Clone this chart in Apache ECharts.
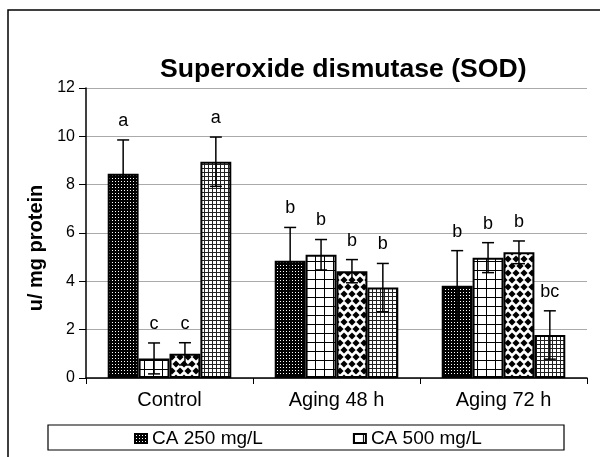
<!DOCTYPE html>
<html>
<head>
<meta charset="utf-8">
<script src="https://cdn.jsdelivr.net/npm/echarts@6/dist/echarts.min.js"></script>
<style>html,body{margin:0;padding:0;background:#fff}#c{width:600px;height:457px}</style>
</head>
<body>
<div id="c"></div>
<script>
// ---- data ----
var categories = ['Control', 'Aging 48 h', 'Aging 72 h'];
var seriesNames = ['CA 250 mg/L', 'CA 500 mg/L', 'Series 3', 'Series 4'];
var legendNames = ['CA 250 mg/L', 'CA 500 mg/L'];
var s1Values = [8.45, 4.85, 3.82];
var s2Values = [0.81, 5.10, 4.98];
var s3Values = [1.00, 4.42, 5.20];
var s4Values = [8.95, 3.74, 1.78];
var s1Err = [1.40, 1.38, 1.45];
var s2Err = [0.64, 0.63, 0.62];
var s3Err = [0.46, 0.48, 0.47];
var s4Err = [1.02, 1.00, 1.00];
var s1Letters = ['a', 'b', 'b'];
var s2Letters = ['c', 'b', 'b'];
var s3Letters = ['c', 'b', 'b'];
var s4Letters = ['a', 'b', 'bc'];
var yTicks = {min: 0, max: 12, interval: 2};

var allValues = [s1Values, s2Values, s3Values, s4Values];
var allErr = [s1Err, s2Err, s3Err, s4Err];
var allLetters = [s1Letters, s2Letters, s3Letters, s4Letters];

// ---- patterns ----
function tile(w, h, draw) {
  var c = document.createElement('canvas');
  c.width = w; c.height = h;
  var ctx = c.getContext('2d');
  draw(ctx, w, h);
  return c;
}
var pat1 = tile(3, 3, function (ctx, w, h) {
  ctx.fillStyle = '#000'; ctx.fillRect(0, 0, w, h);
  ctx.fillStyle = '#fff'; ctx.fillRect(1, 1, 1, 1);
});
var pat2 = tile(9, 9, function (ctx, w, h) {
  ctx.fillStyle = '#fff'; ctx.fillRect(0, 0, w, h);
  ctx.fillStyle = '#000'; ctx.fillRect(0, 0, 1, h); ctx.fillRect(0, 0, w, 1);
});
var pat3 = tile(8, 14, function (ctx, w, h) {
  ctx.fillStyle = '#fff'; ctx.fillRect(0, 0, w, h);
  ctx.fillStyle = '#000';
  var r = 3.6;
  [[4, 7], [0, 0], [8, 0], [0, 14], [8, 14]].forEach(function (p) {
    ctx.beginPath();
    ctx.moveTo(p[0], p[1] - r); ctx.lineTo(p[0] + r, p[1]);
    ctx.lineTo(p[0], p[1] + r); ctx.lineTo(p[0] - r, p[1]);
    ctx.closePath(); ctx.fill();
  });
});
var pat4 = tile(4, 4, function (ctx, w, h) {
  ctx.fillStyle = '#fff'; ctx.fillRect(0, 0, w, h);
  ctx.fillStyle = '#222'; ctx.fillRect(0, 0, 1, h); ctx.fillRect(0, 0, w, 1);
});
var patterns = [pat1, pat2, pat3, pat4];

var GAP = 0.26;
var series = [];
for (var s = 0; s < 4; s++) {
  series.push({
    name: seriesNames[s],
    type: 'bar',
    data: allValues[s],
    barGap: '0%',
    barCategoryGap: (GAP * 100) + '%',
    itemStyle: {color: {image: patterns[s], repeat: 'repeat'}, borderColor: '#000', borderWidth: 2},
    emphasis: {disabled: true},
    silent: true
  });
}
var errData = [], errLetters = [];
for (var s2 = 0; s2 < 4; s2++) {
  for (var c = 0; c < categories.length; c++) {
    errData.push([c, allValues[s2][c], allErr[s2][c], s2]);
    errLetters.push(allLetters[s2][c]);
  }
}
series.push({
  type: 'custom',
  data: errData,
  z: 5,
  silent: true,
  renderItem: function (params, api) {
    var c = api.value(0), v = api.value(1), e = api.value(2), s = api.value(3);
    var band = api.size([1, 0])[0];
    var barW = band * (1 - GAP) / 4;
    var center = api.coord([c, 0])[0];
    var x = center - 2 * barW + (s + 0.5) * barW;
    var yT = api.coord([c, v + e])[1];
    var yL = api.coord([c, Math.max(v - e, 0)])[1];
    var st = {stroke: '#000', lineWidth: 1.5};
    var cw = 6;
    return {
      type: 'group',
      children: [
        {type: 'line', shape: {x1: x, y1: yT, x2: x, y2: yL}, style: st},
        {type: 'line', shape: {x1: x - cw, y1: yT, x2: x + cw, y2: yT}, style: st},
        {type: 'line', shape: {x1: x - cw, y1: yL, x2: x + cw, y2: yL}, style: st},
        {type: 'text', style: {text: errLetters[params.dataIndex], x: x, y: yT - 19,
          align: 'center', verticalAlign: 'middle', fill: '#000',
          font: '18px "Liberation Sans", Arial, sans-serif'}}
      ]
    };
  }
});

var chart = echarts.init(document.getElementById('c'), null, {renderer: 'canvas'});
chart.setOption({
  animation: false,
  backgroundColor: '#fff',
  title: {
    text: 'Superoxide dismutase (SOD)',
    left: 160, top: 56, padding: 0,
    textStyle: {fontSize: 26.6, fontWeight: 'bold', color: '#000', fontFamily: '"Liberation Sans", Arial, sans-serif'}
  },
  legend: {
    data: legendNames,
    left: 134, top: 429, padding: 0,
    itemWidth: 12, itemHeight: 9, itemGap: 90,
    icon: 'rect',
    textStyle: {fontSize: 19, color: '#000', fontFamily: '"Liberation Sans", Arial, sans-serif'},
    selectedMode: false
  },
  grid: {left: 86, right: 13, top: 88, bottom: 79},
  xAxis: {
    type: 'category',
    data: categories,
    axisLine: {lineStyle: {color: '#000', width: 1.5}},
    axisTick: {show: true, length: 6, lineStyle: {color: '#000'}},
    axisLabel: {fontSize: 20, color: '#000', margin: 12, fontFamily: '"Liberation Sans", Arial, sans-serif'},
    splitLine: {show: false}
  },
  yAxis: {
    type: 'value',
    min: yTicks.min, max: yTicks.max, interval: yTicks.interval,
    name: 'u/ mg protein',
    nameLocation: 'middle', nameGap: 34, nameRotate: 90,
    nameTextStyle: {fontSize: 20, fontWeight: 'bold', color: '#000', padding: [0, 30, 0, 0], fontFamily: '"Liberation Sans", Arial, sans-serif'},
    axisLine: {show: true, lineStyle: {color: '#000', width: 1.5}},
    axisTick: {show: true, length: 7, lineStyle: {color: '#000'}},
    axisLabel: {fontSize: 16, color: '#000', margin: 11, fontFamily: '"Liberation Sans", Arial, sans-serif'},
    splitLine: {show: true, lineStyle: {color: '#aaa', width: 1}}
  },
  graphic: [
    {type: 'rect', z: -1, silent: true, shape: {x: 8, y: 10, width: 700, height: 600},
     style: {fill: 'none', stroke: '#000', lineWidth: 1.5}},
    {type: 'rect', z: -1, silent: true, shape: {x: 48, y: 425, width: 516, height: 25},
     style: {fill: 'none', stroke: '#000', lineWidth: 1.2}}
  ],
  series: series
});
</script>
</body>
</html>
